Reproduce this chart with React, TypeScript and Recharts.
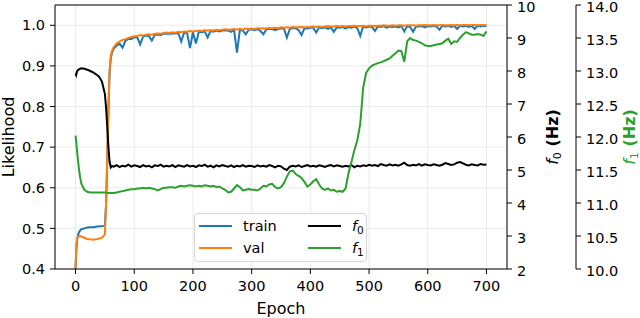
import { ComposedChart, Line, XAxis, YAxis, CartesianGrid, ReferenceLine, Legend } from "recharts";

const FONT = "DejaVu Sans, Verdana, sans-serif";

// epochs sampled from the training log
const epochs = [
  0, 1, 2, 3, 4, 6, 8, 10, 15, 20,
  25, 30, 35, 40, 45, 50, 52, 54, 56, 58,
  60, 62, 65, 70, 75, 80, 85, 90, 95, 100,
  105, 110, 115, 120, 125, 130, 135, 140, 145, 150,
  155, 160, 165, 170, 175, 180, 185, 190, 195, 200,
  205, 210, 215, 220, 225, 230, 235, 240, 245, 250,
  255, 260, 265, 270, 275, 280, 285, 290, 295, 300,
  305, 310, 315, 320, 325, 330, 335, 340, 345, 350,
  355, 360, 365, 370, 375, 380, 385, 390, 395, 400,
  405, 410, 415, 420, 425, 430, 435, 440, 445, 450,
  455, 460, 465, 470, 475, 480, 485, 490, 495, 500,
  505, 510, 515, 520, 525, 530, 535, 540, 545, 550,
  555, 560, 565, 570, 575, 580, 585, 590, 595, 600,
  605, 610, 615, 620, 625, 630, 635, 640, 645, 650,
  655, 660, 665, 670, 675, 680, 685, 690, 695, 700,
];

const train = [
  0.400, 0.440, 0.462, 0.475, 0.483, 0.491, 0.495, 0.498, 0.500, 0.502,
  0.503, 0.503, 0.504, 0.505, 0.505, 0.508, 0.560, 0.660, 0.790, 0.885,
  0.918, 0.932, 0.942, 0.950, 0.955, 0.945, 0.962, 0.966, 0.966, 0.970,
  0.971, 0.953, 0.972, 0.975, 0.974, 0.962, 0.977, 0.977, 0.976, 0.979,
  0.979, 0.979, 0.980, 0.980, 0.981, 0.960, 0.982, 0.981, 0.944, 0.983,
  0.955, 0.984, 0.983, 0.985, 0.970, 0.986, 0.984, 0.987, 0.985, 0.987,
  0.987, 0.987, 0.984, 0.989, 0.933, 0.989, 0.987, 0.978, 0.989, 0.990,
  0.988, 0.991, 0.986, 0.978, 0.990, 0.991, 0.991, 0.988, 0.991, 0.992,
  0.992, 0.970, 0.991, 0.993, 0.993, 0.988, 0.976, 0.993, 0.992, 0.994,
  0.994, 0.982, 0.995, 0.993, 0.995, 0.991, 0.995, 0.984, 0.995, 0.994,
  0.996, 0.992, 0.996, 0.994, 0.997, 0.993, 0.974, 0.997, 0.995, 0.997,
  0.996, 0.986, 0.997, 0.996, 0.998, 0.994, 0.997, 0.996, 0.997, 0.995,
  0.998, 0.985, 0.998, 0.996, 0.984, 0.997, 0.997, 0.998, 0.995, 0.998,
  0.997, 0.999, 0.997, 0.989, 0.999, 0.997, 0.999, 0.996, 0.999, 0.991,
  0.999, 0.997, 0.999, 0.996, 0.999, 0.991, 0.999, 0.997, 0.999, 0.998,
];

const val = [
  0.400, 0.445, 0.468, 0.476, 0.479, 0.481, 0.481, 0.480, 0.477, 0.474,
  0.473, 0.472, 0.473, 0.475, 0.477, 0.485, 0.560, 0.680, 0.800, 0.890,
  0.925, 0.937, 0.946, 0.955, 0.960, 0.964, 0.966, 0.969, 0.971, 0.973,
  0.974, 0.976, 0.975, 0.977, 0.978, 0.977, 0.979, 0.980, 0.979, 0.981,
  0.982, 0.981, 0.983, 0.982, 0.984, 0.983, 0.985, 0.984, 0.986, 0.985,
  0.986, 0.987, 0.986, 0.988, 0.987, 0.988, 0.987, 0.989, 0.988, 0.989,
  0.990, 0.989, 0.990, 0.991, 0.990, 0.991, 0.990, 0.992, 0.991, 0.992,
  0.991, 0.993, 0.992, 0.993, 0.992, 0.994, 0.993, 0.994, 0.993, 0.995,
  0.994, 0.995, 0.994, 0.996, 0.995, 0.995, 0.996, 0.995, 0.996, 0.996,
  0.997, 0.996, 0.997, 0.996, 0.997, 0.998, 0.997, 0.997, 0.998, 0.997,
  0.998, 0.997, 0.998, 0.998, 0.999, 0.998, 0.998, 0.999, 0.998, 0.999,
  0.999, 0.998, 0.999, 0.999, 1.000, 0.999, 0.999, 1.000, 0.999, 1.000,
  1.000, 0.999, 1.000, 1.000, 1.000, 0.999, 1.000, 1.000, 1.001, 1.000,
  1.000, 1.001, 1.000, 1.000, 1.001, 1.000, 1.000, 1.001, 1.000, 1.001,
  1.000, 1.001, 1.001, 1.000, 1.001, 1.001, 1.000, 1.001, 1.001, 1.001,
];

// f0 in Hz
const f0 = [
  7.93, 7.88, 7.95, 8.00, 8.03, 8.05, 8.07, 8.08, 8.07, 8.04,
  8.00, 7.96, 7.90, 7.83, 7.68, 7.30, 6.90, 6.30, 5.70, 5.25,
  5.08, 5.12, 5.10, 5.15, 5.09, 5.13, 5.11, 5.16, 5.10, 5.14,
  5.12, 5.09, 5.15, 5.11, 5.13, 5.08, 5.14, 5.12, 5.16, 5.10,
  5.13, 5.11, 5.15, 5.09, 5.14, 5.12, 5.10, 5.15, 5.11, 5.13,
  5.09, 5.14, 5.12, 5.16, 5.10, 5.13, 5.08, 5.14, 5.11, 5.15,
  5.12, 5.10, 5.14, 5.09, 5.13, 5.11, 5.15, 5.10, 5.13, 5.12,
  5.09, 5.14, 5.11, 5.13, 5.10, 5.15, 5.12, 5.08, 5.13, 5.11,
  5.04, 5.00, 5.10, 5.13, 5.11, 5.14, 5.09, 5.12, 5.15, 5.11,
  5.13, 5.10, 5.14, 5.12, 5.09, 5.13, 5.15, 5.11, 5.14, 5.12,
  5.10, 5.13, 5.11, 5.15, 5.08, 5.13, 5.11, 5.14, 5.12, 5.16,
  5.13, 5.15, 5.12, 5.18, 5.15, 5.13, 5.17, 5.14, 5.16, 5.13,
  5.17, 5.22, 5.15, 5.13, 5.16, 5.14, 5.18, 5.13, 5.17, 5.15,
  5.14, 5.17, 5.15, 5.13, 5.16, 5.21, 5.18, 5.15, 5.17, 5.22,
  5.24, 5.20, 5.16, 5.14, 5.17, 5.15, 5.14, 5.18, 5.16, 5.17,
];

// f1 in Hz
const f1 = [
  12.02, 11.93, 11.84, 11.75, 11.66, 11.50, 11.38, 11.29, 11.20, 11.17,
  11.16, 11.16, 11.16, 11.16, 11.16, 11.16, 11.16, 11.15, 11.15, 11.15,
  11.15, 11.15, 11.15, 11.16, 11.17, 11.18, 11.19, 11.20, 11.21, 11.21,
  11.22, 11.22, 11.23, 11.22, 11.23, 11.22, 11.21, 11.19, 11.21, 11.23,
  11.23, 11.24, 11.24, 11.23, 11.25, 11.26, 11.25, 11.26, 11.27, 11.26,
  11.25, 11.26, 11.25, 11.27, 11.26, 11.25, 11.26, 11.24, 11.25, 11.22,
  11.20, 11.16, 11.17, 11.22, 11.27, 11.24, 11.19, 11.20, 11.21, 11.20,
  11.20, 11.19, 11.22, 11.26, 11.25, 11.28, 11.29, 11.24, 11.22, 11.24,
  11.30, 11.40, 11.48, 11.49, 11.44, 11.41, 11.38, 11.32, 11.25, 11.28,
  11.33, 11.36, 11.28, 11.22, 11.20, 11.22, 11.19, 11.20, 11.17, 11.18,
  11.17, 11.22, 11.45, 11.62, 11.80, 11.95, 12.20, 12.75, 12.97, 13.04,
  13.08, 13.10, 13.12, 13.13, 13.15, 13.17, 13.19, 13.23, 13.27, 13.31,
  13.30, 13.14, 13.45, 13.50, 13.47, 13.46, 13.44, 13.42, 13.39, 13.38,
  13.38, 13.39, 13.40, 13.41, 13.42, 13.46, 13.49, 13.41, 13.45, 13.44,
  13.50, 13.55, 13.59, 13.57, 13.55, 13.55, 13.56, 13.55, 13.53, 13.60,
];

const xTicks = [0, 100, 200, 300, 400, 500, 600, 700];
const likelihoodTicks = [0.4, 0.5, 0.6, 0.7, 0.8, 0.9, 1.0];
const f0Ticks = [2, 3, 4, 5, 6, 7, 8, 9, 10];
const f1Ticks = [10, 10.5, 11, 11.5, 12, 12.5, 13, 13.5, 14];

const data = epochs.map((epoch, i) => ({
  epoch,
  train: train[i],
  val: val[i],
  f0: f0[i],
  f1: f1[i],
}));

const tickStyle = { fill: "#000", fontSize: 14.5, fontFamily: FONT };
// right-hand labels nudged down a hair so the top one stays inside the frame
const rightTickStyle = { ...tickStyle, dy: 1.5 };

const FreqLabel = ({ sub }: { sub: string }) => (
  <>
    <tspan fontStyle="italic">f</tspan>
    <tspan fontSize={11} dy={3}>{sub}</tspan>
    <tspan dy={-3} fontWeight="bold"> (Hz)</tspan>
  </>
);

const YTitle = (props: any) => {
  const { viewBox, base, tint, axisKind } = props;
  const cy = viewBox.y + viewBox.height / 2;
  const x = viewBox.x + base;
  return (
    <text
      x={0}
      y={0}
      transform={`translate(${x},${cy}) rotate(-90)`}
      textAnchor="middle"
      fill={tint}
      fontSize={16}
      fontFamily={FONT}
    >
      {axisKind === "like" ? "Likelihood" : <FreqLabel sub={axisKind === "f0" ? "0" : "1"} />}
    </text>
  );
};

const XTitle = (props: any) => {
  const { viewBox } = props;
  return (
    <text
      x={viewBox.x + viewBox.width / 2}
      y={viewBox.y + 45}
      textAnchor="middle"
      fill="#000"
      fontSize={16}
      fontFamily={FONT}
    >
      Epoch
    </text>
  );
};

const legendRows = [
  { name: "train", color: "#1f77b4", left: 4, top: 13 },
  { name: "val", color: "#ff7f0e", left: 4, top: 35 },
  { name: "f0", color: "#000000", left: 113, top: 13 },
  { name: "f1", color: "#2ca02c", left: 113, top: 35 },
];

const LegendBox = () => (
  <div
    style={{
      position: "relative",
      width: 173,
      height: 49,
      boxSizing: "border-box",
      border: "1px solid #d6d6d6",
      borderRadius: 4,
      background: "rgba(255,255,255,0.85)",
      fontFamily: FONT,
      fontSize: 14.5,
      color: "#000",
    }}
  >
    {legendRows.map((r) => (
      <div key={r.name}>
        <div
          style={{
            position: "absolute",
            left: r.left,
            top: r.top - 2,
            width: 33,
            height: 2,
            background: r.color,
          }}
        />
        <div
          style={{
            position: "absolute",
            left: r.left + 44,
            top: r.top - 10,
            lineHeight: "18px",
            whiteSpace: "nowrap",
          }}
        >
          {r.name.startsWith("f") ? (
            <>
              <span style={{ fontStyle: "italic" }}>f</span>
              <span style={{ fontSize: 10.5, position: "relative", top: 3 }}>{r.name.slice(1)}</span>
            </>
          ) : (
            r.name
          )}
        </div>
      </div>
    ))}
  </div>
);

export default function App() {
  return (
    <div style={{ position: "absolute", left: 0, top: 0, width: 640, height: 318, background: "#fff" }}>
      <ComposedChart width={640} height={318} data={data} margin={{ top: 5, right: 0, bottom: 0, left: 0 }}>
        <CartesianGrid yAxisId="like" stroke="#ebebeb" strokeWidth={1} />
        <XAxis
          dataKey="epoch"
          type="number"
          domain={[-35, 735]}
          ticks={xTicks}
          interval={0}
          allowDataOverflow
          height={49}
          tickSize={5}
          tickMargin={7}
          stroke="#000"
          tick={tickStyle}
          label={<XTitle />}
        />
        <YAxis
          yAxisId="like"
          domain={[0.4, 1.05]}
          ticks={likelihoodTicks}
          interval={0}
          allowDataOverflow
          width={55}
          tickSize={5}
          tickMargin={5}
          stroke="#000"
          tick={tickStyle}
          tickFormatter={(v: number) => v.toFixed(1)}
          label={<YTitle base={13.5} tint="#000" axisKind="like" />}
        />
        <YAxis
          yAxisId="f0"
          orientation="right"
          domain={[2, 10]}
          ticks={f0Ticks}
          interval={0}
          allowDataOverflow
          width={69}
          tickSize={5}
          tickMargin={5}
          stroke="#000"
          tick={rightTickStyle}
          label={<YTitle base={51} tint="#000" axisKind="f0" />}
        />
        <YAxis
          yAxisId="f1"
          orientation="right"
          domain={[10, 14]}
          ticks={f1Ticks}
          interval={0}
          allowDataOverflow
          width={64}
          tickSize={5}
          tickMargin={5}
          stroke="#000"
          tick={rightTickStyle}
          tickFormatter={(v: number) => v.toFixed(1)}
          label={<YTitle base={58.5} tint="#2ca02c" axisKind="f1" />}
        />
        <ReferenceLine yAxisId="like" y={1.05} stroke="#000" strokeWidth={1} />
        <Line yAxisId="like" dataKey="train" stroke="#1f77b4" strokeWidth={2} dot={false} activeDot={false} isAnimationActive={false} />
        <Line yAxisId="like" dataKey="val" stroke="#ff7f0e" strokeWidth={2} dot={false} activeDot={false} isAnimationActive={false} />
        <Line yAxisId="f0" dataKey="f0" stroke="#000000" strokeWidth={2} dot={false} activeDot={false} isAnimationActive={false} />
        <Line yAxisId="f1" dataKey="f1" stroke="#2ca02c" strokeWidth={2} dot={false} activeDot={false} isAnimationActive={false} />
        <Legend
          layout="vertical"
          align="center"
          verticalAlign="middle"
          content={<LegendBox />}
          wrapperStyle={{ left: 194, top: 213, width: 173, height: 49 }}
        />
      </ComposedChart>
    </div>
  );
}
